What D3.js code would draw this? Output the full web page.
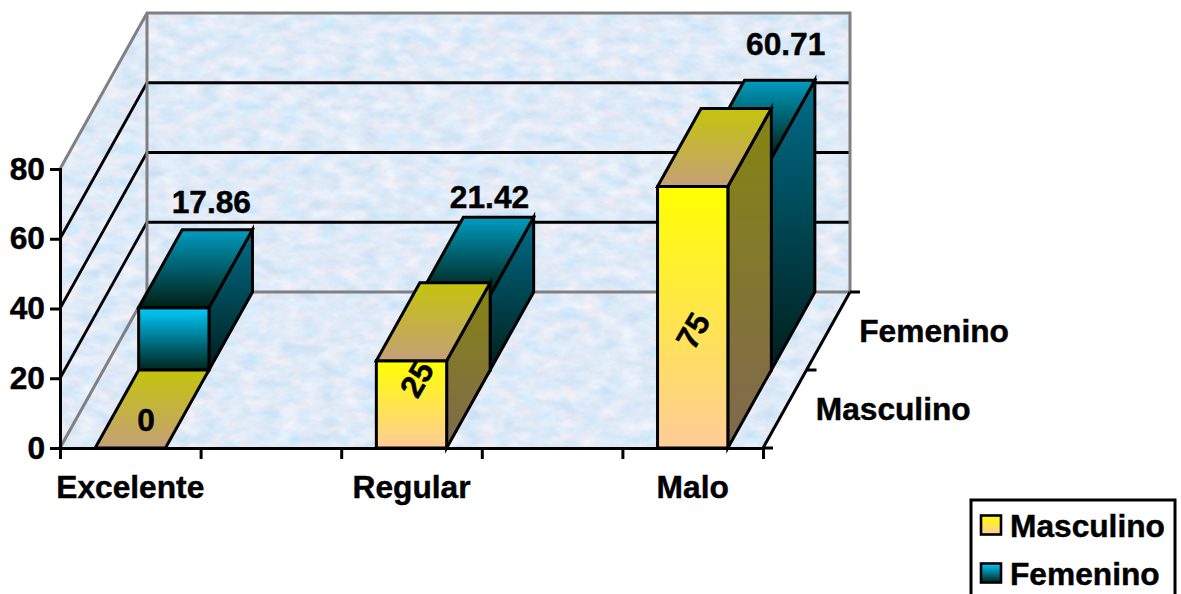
<!DOCTYPE html>
<html>
<head>
<meta charset="utf-8">
<script src="https://cdn.jsdelivr.net/npm/d3@7"></script>
<style>
  html, body { margin: 0; padding: 0; background: #fff; overflow: hidden; }
  svg { display: block; }
  text { font-family: "Liberation Sans", Arial, sans-serif; font-weight: bold; font-size: 31.7px; fill: #000; stroke: #000; stroke-width: 0.45px; }
</style>
</head>
<body>
<script>
// Survey ratings by sex; the empty slots keep the gaps between the rated categories.
const categories = ["Excelente", " ", "Regular", "  ", "Malo"];
const seriesNames = ["Masculino", "Femenino"];
const masculino = [0, null, 25, null, 75];
const femenino = [17.86, null, 21.42, null, 60.71];
const valueTicks = [0, 20, 40, 60, 80];

// Label offsets from the corner of each bar they belong to.
const masculinoLabelShift = [[51, -28], null, [40, 18], null, [35, 144]];
const femeninoLabelShift = [[-6, -17], null, [-9, -9], null, [6, -25]];

const width = 1181, height = 594;
const depthX = 87, depthY = 156;
const plot = { left: 60, right: 763, bottom: 448, top: 169 };

const x = d3.scaleBand().domain(categories).range([plot.left, plot.right])
  .paddingInner(0.5).paddingOuter(0.25);
const xEdges = d3.scaleLinear().domain([0, categories.length]).range([plot.left, plot.right]);
const y = d3.scaleLinear().domain([0, 80]).range([plot.bottom, plot.top]);
const z = d3.scaleLinear().domain([0, 1]).range([0, 1]);

// Oblique projection: px along the category axis, v along the value axis, d into the depth.
const project = (px, v, d) => [px + z(d) * depthX, y(v) - z(d) * depthY];
const poly = pts => "M" + pts.map(p => p.join(",")).join("L") + "Z";

const svg = d3.select("body").append("svg").attr("width", width).attr("height", height);
const defs = svg.append("defs");

// Marbled pale-blue fill of the walls and the floor.
const marble = defs.append("filter").attr("id", "marble")
  .attr("x", 0).attr("y", 0).attr("width", 1).attr("height", 1)
  .attr("color-interpolation-filters", "sRGB");
marble.append("feTurbulence").attr("type", "fractalNoise")
  .attr("baseFrequency", "0.05 0.09").attr("numOctaves", 4).attr("seed", 7).attr("result", "n");
marble.append("feColorMatrix").attr("in", "n").attr("type", "matrix")
  .attr("values", "0.26 0 0 0 0.745  0.08 0.06 0 0 0.85  0 0.06 0 0 0.94  0 0 0 0 1").attr("result", "c");
marble.append("feComposite").attr("in", "c").attr("in2", "SourceAlpha").attr("operator", "in");

function gradient(id, top, bottom) {
  const g = defs.append("linearGradient").attr("id", id)
    .attr("x1", 0).attr("y1", 0).attr("x2", 0).attr("y2", 1);
  g.append("stop").attr("offset", 0).attr("stop-color", top);
  g.append("stop").attr("offset", 1).attr("stop-color", bottom);
}
gradient("mFront", "#ffff00", "#ffcc99");
gradient("mTop", "#c4c40c", "#c4a078");
gradient("mSide", "#858510", "#806850");
gradient("fFront", "#00ccff", "#00241c");
gradient("fTop", "#009cc0", "#001f14");
gradient("fSide", "#006d8a", "#001f1c");

const [x0, x1] = [plot.left, plot.right];
const wall = svg.append("g");
const faces = [
  [project(x0, 0, 0), project(x0, 80, 0), project(x0, 80, 1), project(x0, 0, 1)],
  [project(x0, 0, 1), project(x0, 80, 1), project(x1, 80, 1), project(x1, 0, 1)],
  [project(x0, 0, 0), project(x1, 0, 0), project(x1, 0, 1), project(x0, 0, 1)]
];
wall.selectAll("path").data(faces).join("path")
  .attr("d", poly).attr("fill", "#fff").attr("filter", "url(#marble)");

// Gridlines wrap from the left wall onto the back wall.
const grid = svg.append("g").attr("fill", "none").attr("stroke", "#000").attr("stroke-width", 2.8);
grid.selectAll("path").data(valueTicks.slice(1, 4)).join("path")
  .attr("d", v => d3.line()([project(x0, v, 0), project(x0, v, 1), project(x1, v, 1)]));

// Grey outline of the chart box.
const rim = svg.append("g").attr("fill", "none").attr("stroke", "#808080").attr("stroke-width", 3);
rim.append("path").attr("d", d3.line()([project(x0, 80, 0), project(x0, 80, 1), project(x1, 80, 1), project(x1, 0, 1)]));
rim.append("path").attr("d", d3.line()([project(x0, 80, 1), project(x0, 0, 1), project(x1, 0, 1)]));
rim.append("path").attr("d", d3.line()([project(x0, 0, 0), project(x0, 0, 1)]));

// One solid bar: side, top and front faces, each with its own shaded gradient.
function drawBar(layer, cat, value, dNear, dFar, prefix) {
  const l = x(cat), r = l + x.bandwidth();
  const side = [project(r, 0, dNear), project(r, value, dNear), project(r, value, dFar), project(r, 0, dFar)];
  const top = [project(l, value, dNear), project(r, value, dNear), project(r, value, dFar), project(l, value, dFar)];
  const front = [project(l, 0, dNear), project(l, value, dNear), project(r, value, dNear), project(r, 0, dNear)];
  const g = layer.append("g").attr("stroke", "#000").attr("stroke-width", 3).attr("stroke-linejoin", "miter");
  if (value > 0) {
    g.append("path").attr("d", poly(side)).attr("fill", `url(#${prefix}Side)`);
    g.append("path").attr("d", poly(front)).attr("fill", `url(#${prefix}Front)`);
  }
  g.append("path").attr("d", poly(top)).attr("fill", `url(#${prefix}Top)`);
}

const bars = svg.append("g");
categories.forEach((c, i) => { if (femenino[i] !== null) drawBar(bars, c, femenino[i], 0.5, 1, "f"); });
categories.forEach((c, i) => { if (masculino[i] !== null) drawBar(bars, c, masculino[i], 0, 0.5, "m"); });

// Value axis.
const yAxis = svg.append("g").attr("transform", `translate(${plot.left},0)`)
  .call(d3.axisLeft(y).tickValues(valueTicks).tickSize(10).tickPadding(5));
yAxis.selectAll(".domain").attr("stroke", "#000").attr("stroke-width", 3);
yAxis.selectAll(".tick line").attr("stroke", "#000").attr("stroke-width", 3);

// Category axis: ticks sit on the band edges, names in the band centres.
const xTicks = svg.append("g").attr("transform", `translate(0,${plot.bottom})`)
  .call(d3.axisBottom(xEdges).ticks(categories.length).tickSize(11).tickFormat(""));
xTicks.selectAll(".domain").attr("stroke", "#000").attr("stroke-width", 3);
xTicks.selectAll(".tick line").attr("stroke", "#000").attr("stroke-width", 3);

const xNames = svg.append("g").attr("transform", `translate(0,${plot.bottom})`)
  .call(d3.axisBottom(x).tickSize(0).tickPadding(27));
xNames.select(".domain").remove();
svg.selectAll("text").attr("font-family", null).attr("font-size", null);

// Depth axis on the right-hand floor edge.
const depth = svg.append("g").attr("fill", "none").attr("stroke", "#000").attr("stroke-width", 3);
depth.append("path").attr("d", d3.line()([project(x1, 0, 0), project(x1, 0, 1)]));
depth.selectAll("line.t").data([0, 0.5, 1]).join("line").attr("class", "t")
  .attr("x1", d => project(x1, 0, d)[0]).attr("y1", d => project(x1, 0, d)[1])
  .attr("x2", d => project(x1, 0, d)[0] + 10).attr("y2", d => project(x1, 0, d)[1]);

svg.selectAll("text.series").data(seriesNames).join("text").attr("class", "series")
  .attr("x", (d, i) => project(x1, 0, i * 0.5 + 0.25)[0] + 31)
  .attr("y", (d, i) => project(x1, 0, i * 0.5 + 0.25)[1] + 11)
  .text(d => d);

// Value labels.
const labels = svg.append("g");
categories.forEach((c, i) => {
  if (femenino[i] !== null) {
    const [px, py] = project(x(c) + x.bandwidth() / 2, femenino[i], 1);
    const [dx, dy] = femeninoLabelShift[i];
    labels.append("text").attr("x", px + dx).attr("y", py + dy)
      .attr("text-anchor", "middle").text(femenino[i]);
  }
  if (masculino[i] !== null) {
    const [px, py] = project(x(c), masculino[i], 0);
    const [dx, dy] = masculinoLabelShift[i];
    labels.append("text")
      .attr("transform", `translate(${px + dx},${py + dy}) rotate(${masculino[i] > 0 ? -60 : 0})`)
      .attr("text-anchor", "middle").attr("dy", "0.36em").text(masculino[i]);
  }
});

// Legend; its box runs off the lower edge of the page.
const legend = svg.append("g");
legend.append("rect").attr("x", 971).attr("y", 500).attr("width", 204).attr("height", 110)
  .attr("fill", "#fff").attr("stroke", "#000").attr("stroke-width", 3);
const swatchFill = { Masculino: "mFront", Femenino: "fFront" };
const legendRow = d3.scalePoint().domain(seriesNames).range([525, 573]);
seriesNames.forEach(name => {
  legend.append("rect").attr("x", 981).attr("y", legendRow(name) - 9.5).attr("width", 20).attr("height", 19)
    .attr("fill", `url(#${swatchFill[name]})`).attr("stroke", "#000").attr("stroke-width", 2.6);
  legend.append("text").attr("x", 1010).attr("y", legendRow(name) + 12).text(name);
});
</script>
</body>
</html>
